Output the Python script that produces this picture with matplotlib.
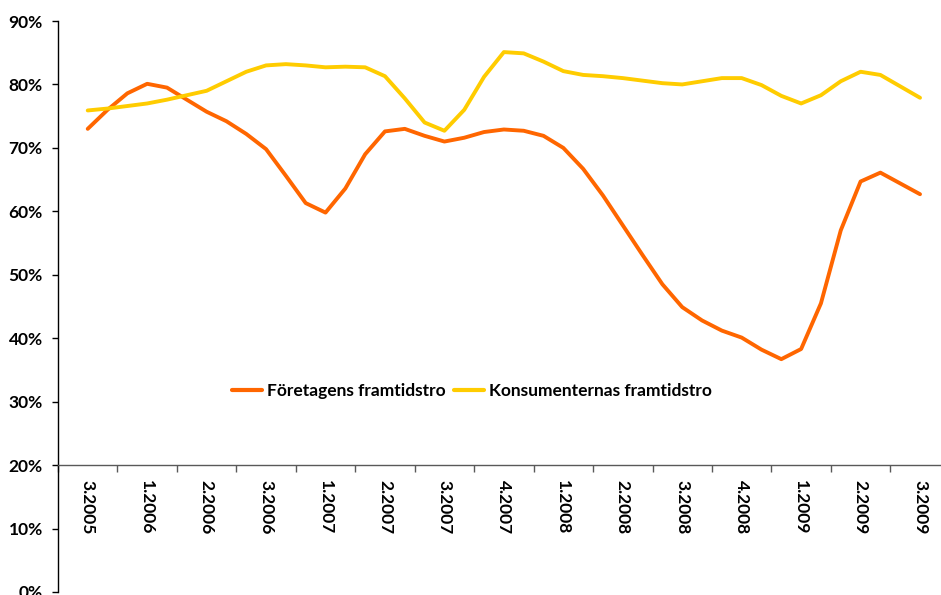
import numpy as np
import matplotlib
matplotlib.use("Agg")
import matplotlib.pyplot as plt
from matplotlib.ticker import FixedLocator, FuncFormatter

plt.rcParams['font.family'] = ['Lato', 'DejaVu Sans']

categories = ["3.2005", "1.2006", "2.2006", "3.2006", "1.2007", "2.2007", "3.2007",
              "4.2007", "1.2008", "2.2008", "3.2008", "4.2008", "1.2009", "2.2009", "3.2009"]

# values read every third of a category step
foretagen = [73.0, 76.0, 78.6, 80.1, 79.5, 77.6, 75.7, 74.2, 72.2, 69.8, 65.6, 61.3, 59.8, 63.6,
             69.0, 72.6, 73.0, 71.9, 71.0, 71.6, 72.5, 72.9, 72.7, 71.9, 70.0, 66.7, 62.5, 57.8,
             53.1, 48.5, 44.9, 42.8, 41.2, 40.1, 38.2, 36.7, 38.3, 45.5, 57.0, 64.7, 66.1, 64.4, 62.7]
konsumenter = [75.9, 76.2, 76.6, 77.0, 77.6, 78.3, 79.0, 80.5, 82.0, 83.0, 83.2, 83.0, 82.7, 82.8,
               82.7, 81.3, 77.8, 74.0, 72.7, 76.0, 81.2, 85.1, 84.9, 83.6, 82.1, 81.5, 81.3, 81.0,
               80.6, 80.2, 80.0, 80.5, 81.0, 81.0, 79.9, 78.2, 77.0, 78.3, 80.5, 82.0, 81.5, 79.7, 77.9]
series_names = ["Företagens framtidstro", "Konsumenternas framtidstro"]
y_ticks = [0, 10, 20, 30, 40, 50, 60, 70, 80, 90]

W, H = 941, 595
fig = plt.figure(figsize=(W / 100, H / 100), dpi=100)
left, right, top, bottom = 58, 940, 21, 592
ax = fig.add_axes([left / W, (H - bottom) / H, (right - left) / W, (bottom - top) / H])

step = 59.45
ax.set_xlim(-0.5, -0.5 + (right - left) / step)
ax.set_ylim(0, 90)

x_f = np.arange(len(foretagen)) / 3.0
x_k = np.arange(len(konsumenter)) / 3.0
ax.plot(x_f, foretagen, color="#FF6600", lw=2.8, solid_capstyle="round",
        solid_joinstyle="round", label=series_names[0], zorder=3)
ax.plot(x_k, konsumenter, color="#FFCC00", lw=2.8, solid_capstyle="round",
        solid_joinstyle="round", label=series_names[1], zorder=3)

# spines
for s in ["top", "right"]:
    ax.spines[s].set_visible(False)
ax.spines["left"].set_color("#000000")
ax.spines["left"].set_linewidth(1.0)
ax.spines["bottom"].set_position(("data", 20))
ax.spines["bottom"].set_color("#595959")
ax.spines["bottom"].set_linewidth(1.0)

# y axis
ax.set_yticks(y_ticks)
ax.yaxis.set_major_formatter(FuncFormatter(lambda v, p: f"{int(v)}%"))
ax.tick_params(axis="y", direction="out", length=4, width=1, color="#000000", pad=7,
               labelsize=12.5)
for lab in ax.get_yticklabels():
    lab.set_fontweight("bold")

# x axis: boundary ticks + centered labels
n = len(categories)
ax.xaxis.set_major_locator(FixedLocator(np.arange(n + 1) - 0.5))
ax.xaxis.set_major_formatter(FuncFormatter(lambda v, p: ""))
ax.xaxis.set_minor_locator(FixedLocator(np.arange(n)))
ax.set_xticklabels(categories, minor=True)
ax.tick_params(axis="x", which="major", direction="out", length=5, width=1, color="#595959")
ax.tick_params(axis="x", which="minor", length=0, pad=11, labelsize=12.5)
for lab in ax.get_xticklabels(minor=True):
    lab.set_rotation(270)
    lab.set_fontweight("bold")
    lab.set_va("top")
    lab.set_ha("center")

leg = fig.legend(loc="center", bbox_to_anchor=(472 / W, 1 - 391 / H), ncol=2, frameon=False,
                 prop={"weight": "bold", "size": 12.5}, handlelength=1.7,
                 handletextpad=0.3, columnspacing=0.5)
for h in leg.get_lines():
    h.set_linewidth(3)

fig.savefig("out.png", dpi=100)
